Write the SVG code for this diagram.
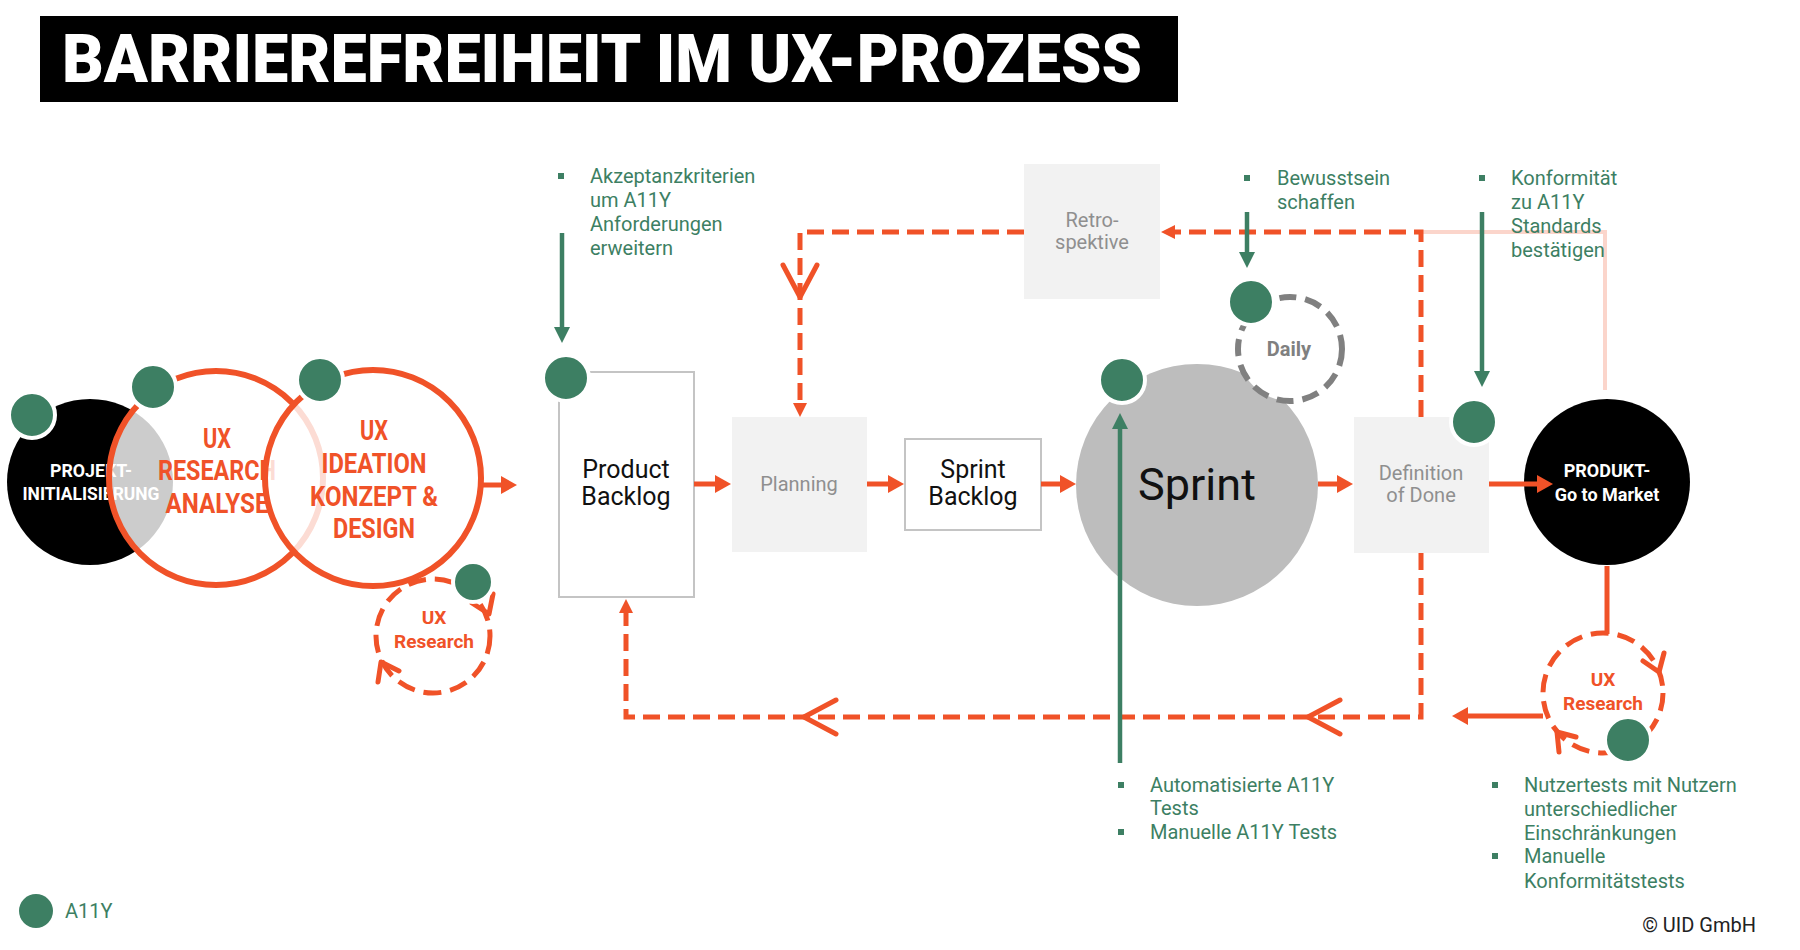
<svg xmlns="http://www.w3.org/2000/svg" width="1800" height="950" viewBox="0 0 1800 950">
<style>
text{font-family:Roboto,"Liberation Sans",Arial,sans-serif}
.phase{fill:#fff;fill-opacity:.8;stroke:#f05228;stroke-width:6}
.plbl{fill:#f05228;font-weight:700;font-size:27px;text-anchor:middle}
.wlbl{fill:#fff;font-weight:700;font-size:18px;text-anchor:middle}
.box{fill:#f2f2f2}
.obox{fill:#fff;stroke:#c4c4c4;stroke-width:2}
.glbl{fill:#8f8f8f;font-size:20px;text-anchor:middle}
.blbl{fill:#111;font-size:25px;text-anchor:middle}
.ann{fill:#3d7f63;font-size:20px}
.bul{fill:#3d7f63}
.dot{fill:#3d7f63;stroke:#fff;stroke-width:4}
.sol{fill:none;stroke:#f05228;stroke-width:5}
.dash{fill:none;stroke:#f05228;stroke-width:5;stroke-dasharray:17 8}
.chev{fill:none;stroke:#f05228;stroke-width:5;stroke-linecap:round;stroke-linejoin:round}
.garr{fill:none;stroke:#3d7f63;stroke-width:4.5}
.dcirc{fill:#fff;fill-opacity:.8;stroke:#f05228;stroke-width:5;stroke-dasharray:18 9}
.rlbl{fill:#f05228;font-weight:700;font-size:19px;text-anchor:middle}
</style>
<defs>
<marker id="oh" markerUnits="userSpaceOnUse" viewBox="0 0 16 18" markerWidth="16" markerHeight="18" refX="4" refY="9" orient="auto"><path d="M0,0 L16,9 L0,18 z" fill="#f05228"/></marker>
<marker id="dh" markerUnits="userSpaceOnUse" viewBox="0 0 14 14" markerWidth="14" markerHeight="14" refX="3" refY="7" orient="auto"><path d="M0,0 L14,7 L0,14 z" fill="#f05228"/></marker>
<marker id="gh" markerUnits="userSpaceOnUse" viewBox="0 0 16 16" markerWidth="16" markerHeight="16" refX="4" refY="8" orient="auto"><path d="M0,0 L16,8 L0,16 z" fill="#3d7f63"/></marker>
</defs>
<rect width="1800" height="950" fill="#fff"/>

<g id="title">
<rect x="40" y="16" width="1138" height="86" fill="#000"/>
<text x="62" y="82" font-size="66" font-weight="900" fill="#fff" textLength="1080" lengthAdjust="spacingAndGlyphs">BARRIEREFREIHEIT IM UX-PROZESS</text>
</g>

<g id="projekt-initialisierung">
<circle cx="90" cy="482" r="83" fill="#000"/>
<text class="wlbl" x="91" y="477" textLength="82" lengthAdjust="spacingAndGlyphs">PROJEKT-</text>
<text class="wlbl" x="91" y="500" textLength="137" lengthAdjust="spacingAndGlyphs">INITIALISIERUNG</text>
</g>

<g id="ux-research-analyse">
<circle class="phase" cx="216" cy="478" r="107"/>
<text class="plbl" x="217" y="448" textLength="28" lengthAdjust="spacingAndGlyphs">UX</text>
<text class="plbl" x="217" y="480" textLength="118" lengthAdjust="spacingAndGlyphs">RESEARCH</text>
<text class="plbl" x="217" y="513" textLength="103" lengthAdjust="spacingAndGlyphs">ANALYSE</text>
</g>

<g id="ux-ideation">
<circle class="phase" cx="373" cy="478" r="108"/>
<text class="plbl" x="374" y="440" textLength="28" lengthAdjust="spacingAndGlyphs">UX</text>
<text class="plbl" x="374" y="473" textLength="105" lengthAdjust="spacingAndGlyphs">IDEATION</text>
<text class="plbl" x="374" y="506" textLength="128" lengthAdjust="spacingAndGlyphs">KONZEPT &amp;</text>
<text class="plbl" x="374" y="538" textLength="82" lengthAdjust="spacingAndGlyphs">DESIGN</text>
</g>

<g id="ux-research-1">
<circle class="dcirc" cx="433" cy="636" r="57"/>
<path class="chev" d="M493,594 L489,614 L472,603"/>
<path class="chev" d="M378,682 L381,662 L399,671"/>
<text class="rlbl" x="434" y="624">UX</text>
<text class="rlbl" x="434" y="648">Research</text>
</g>

<g id="product-backlog">
<rect class="obox" x="559" y="372" width="135" height="225"/>
<text class="blbl" x="626" y="478">Product</text>
<text class="blbl" x="626" y="505">Backlog</text>
</g>

<g id="planning">
<rect class="box" x="732" y="417" width="135" height="135"/>
<text class="glbl" x="799" y="491">Planning</text>
</g>

<g id="sprint-backlog">
<rect class="obox" x="905" y="439" width="136" height="91"/>
<text class="blbl" x="973" y="478">Sprint</text>
<text class="blbl" x="973" y="505">Backlog</text>
</g>

<g id="sprint">
<circle cx="1197" cy="485" r="121" fill="#bdbdbd"/>
<text x="1197" y="500" font-size="45" fill="#111" text-anchor="middle">Sprint</text>
</g>

<g id="daily">
<circle cx="1290" cy="349" r="52" fill="#fff" stroke="#808080" stroke-width="6" stroke-dasharray="17 9"/>
<text x="1289" y="356" font-size="20" font-weight="700" fill="#808080" text-anchor="middle">Daily</text>
</g>

<g id="retrospektive">
<rect class="box" x="1024" y="164" width="136" height="135"/>
<text class="glbl" x="1092" y="227">Retro-</text>
<text class="glbl" x="1092" y="249">spektive</text>
</g>

<g id="definition-of-done">
<rect class="box" x="1354" y="417" width="135" height="136"/>
<text class="glbl" x="1421" y="480">Definition</text>
<text class="glbl" x="1421" y="502">of Done</text>
</g>

<g id="produkt-go-to-market">
<circle cx="1607" cy="482" r="83" fill="#000"/>
<text class="wlbl" x="1607" y="477">PRODUKT-</text>
<text class="wlbl" x="1607" y="501">Go to Market</text>
</g>

<g id="ux-research-2">
<circle class="dcirc" cx="1603" cy="693" r="60"/>
<path class="chev" d="M1664,653 L1659,672 L1643,661"/>
<path class="chev" d="M1559,752 L1557,732 L1576,737"/>
<text class="rlbl" x="1603" y="686">UX</text>
<text class="rlbl" x="1603" y="710">Research</text>
</g>

<g id="connectors">
<path d="M1422,232 H1605 V390" fill="none" stroke="#fbd5cb" stroke-width="4"/>
<path class="sol" d="M483,485 H505" marker-end="url(#oh)"/>
<path class="sol" d="M694,484 H719" marker-end="url(#oh)"/>
<path class="sol" d="M867,484 H892" marker-end="url(#oh)"/>
<path class="sol" d="M1041,484 H1064" marker-end="url(#oh)"/>
<path class="sol" d="M1318,484 H1341" marker-end="url(#oh)"/>
<path class="sol" d="M1489,484 H1541" marker-end="url(#oh)"/>
<path class="sol" d="M1607,566 V634"/>
<path class="sol" d="M1543,716 H1464" marker-end="url(#oh)"/>
<path class="dash" d="M1421,417 V232 H1172" marker-end="url(#dh)"/>
<path class="dash" d="M1024,232 H800 V406" marker-end="url(#dh)"/>
<path class="chev" d="M783,265 L800,297 L817,265"/>
<path class="dash" d="M1421,553 V717 H626 V610" marker-end="url(#dh)"/>
<path class="chev" d="M836,700 L804,717 L836,734"/>
<path class="chev" d="M1340,700 L1308,717 L1340,734"/>
<path class="garr" d="M562,233 V331" marker-end="url(#gh)"/>
<path class="garr" d="M1247,212 V256" marker-end="url(#gh)"/>
<path class="garr" d="M1482,212 V375" marker-end="url(#gh)"/>
<path class="garr" d="M1120,763 V425" marker-end="url(#gh)"/>
</g>

<g id="a11y-markers">
<circle class="dot" cx="32" cy="415" r="23"/>
<circle class="dot" cx="153" cy="387" r="23"/>
<circle class="dot" cx="320" cy="380" r="23"/>
<circle class="dot" cx="473" cy="582" r="20"/>
<circle class="dot" cx="566" cy="378" r="23"/>
<circle class="dot" cx="1122" cy="380" r="23"/>
<circle class="dot" cx="1251" cy="302" r="23"/>
<circle class="dot" cx="1474" cy="422" r="23"/>
<circle class="dot" cx="1628" cy="740" r="23"/>
</g>

<g id="annotations">
<rect class="bul" x="558" y="173" width="6" height="6"/>
<text class="ann"><tspan x="590" y="183">Akzeptanzkriterien</tspan><tspan x="590" y="207">um A11Y</tspan><tspan x="590" y="231">Anforderungen</tspan><tspan x="590" y="255">erweitern</tspan></text>
<rect class="bul" x="1244" y="175" width="6" height="6"/>
<text class="ann"><tspan x="1277" y="185">Bewusstsein</tspan><tspan x="1277" y="209">schaffen</tspan></text>
<rect class="bul" x="1479" y="175" width="6" height="6"/>
<text class="ann"><tspan x="1511" y="185">Konformität</tspan><tspan x="1511" y="209">zu A11Y</tspan><tspan x="1511" y="233">Standards</tspan><tspan x="1511" y="257">bestätigen</tspan></text>
<rect class="bul" x="1118" y="782" width="6" height="6"/>
<rect class="bul" x="1118" y="829" width="6" height="6"/>
<text class="ann"><tspan x="1150" y="792">Automatisierte A11Y</tspan><tspan x="1150" y="815">Tests</tspan><tspan x="1150" y="839">Manuelle A11Y Tests</tspan></text>
<rect class="bul" x="1492" y="782" width="6" height="6"/>
<rect class="bul" x="1492" y="853" width="6" height="6"/>
<text class="ann"><tspan x="1524" y="792">Nutzertests mit Nutzern</tspan><tspan x="1524" y="816">unterschiedlicher</tspan><tspan x="1524" y="840">Einschränkungen</tspan><tspan x="1524" y="863">Manuelle</tspan><tspan x="1524" y="888">Konformitätstests</tspan></text>
</g>

<g id="legend">
<circle cx="36" cy="911" r="17" fill="#3d7f63"/>
<text class="ann" x="65" y="918">A11Y</text>
<text x="1756" y="932" font-size="20" fill="#222" text-anchor="end">© UID GmbH</text>
</g>
</svg>
